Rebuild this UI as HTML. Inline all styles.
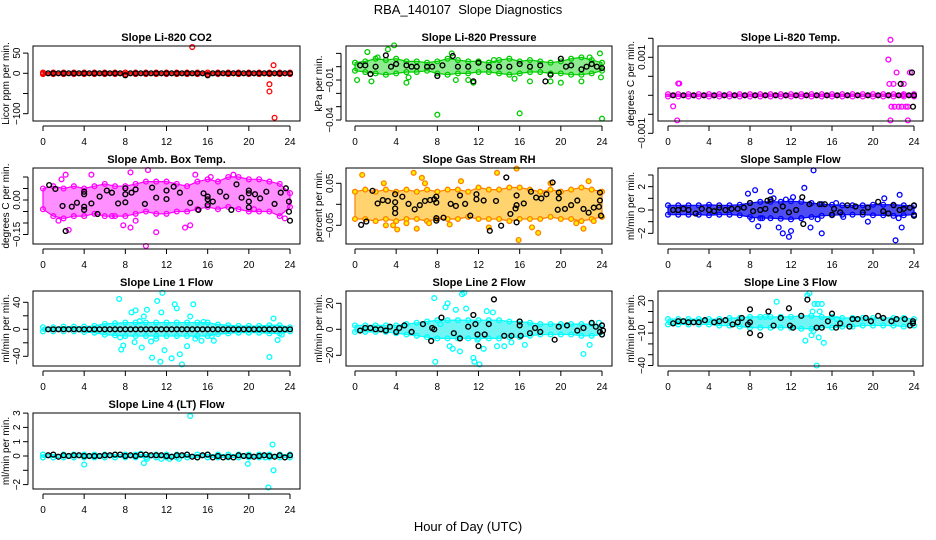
<!DOCTYPE html>
<html><head><meta charset="utf-8"><style>
body{margin:0;background:#fff}
svg{display:block}
text{font-family:"Liberation Sans",sans-serif;fill:#000}
</style></head><body>
<svg id="chart" width="936" height="540" xmlns="http://www.w3.org/2000/svg">
<text x="468" y="14" font-size="13" text-anchor="middle" style="white-space:pre">RBA_140107&#160; Slope Diagnostics</text>
<text x="468" y="531" font-size="13" text-anchor="middle">Hour of Day (UTC)</text>
</svg>
<script>
const HOURS=[0,1,2,3,4,5,6,7,8,9,10,11,12,13,14,15,16,17,18,19,20,21,22,23,24];
const HALF=[0.5,1,1.5,2,2.5,3,3.5,4,4.5,5,5.5,6,6.5,7,7.5,8,8.5,9,9.5,10,10.5,11,11.5,12,12.5,13,13.5,14,14.5,15,15.5,16,16.5,17,17.5,18,18.5,19,19.5,20,20.5,21,21.5,22,22.5,23,23.5,24];
const X_TICKS=[0,4,8,12,16,20,24];

// P1 CO2
const co2Hi=[2,2,2,2,2,2,2,2,2,2,2,2,2,2,2,2,2,2,2,2,2,2,2,2,2];
const co2Lo=[-2,-2,-2,-2,-2,-2,-2,-2,-2,-2,-2,-2,-2,-2,-2,-2,-2,-2,-2,-2,-2,-2,-2,-2,-2];
const co2OutT=[14.5,22,22,22.4,22.5,0,24];
const co2OutV=[65,-27,-45,20,-110,0,0];
const co2BlkV=[0,0,0,0,0,0,0,0,0,0,0,0,0,0,0,-5,0,0,0,0,0,0,0,0,0,0,0,0,0,0,0,-5,0,0,0,0,0,0,0,0,0,0,0,0,0,0,0,0];
const co2Ticks=[-100,0,50];

// P2 Pressure
const prHi=[0.003,0.004,0.006,0.005,0.006,0.004,0.004,0.003,0.004,0.006,0.005,0.004,0.004,0.003,0.005,0.006,0.004,0.005,0.004,0.003,0.004,0.006,0.007,0.005,0.003];
const prLo=[-0.003,-0.004,-0.005,-0.006,-0.005,-0.004,-0.004,-0.003,-0.005,-0.006,-0.005,-0.005,-0.004,-0.004,-0.005,-0.006,-0.005,-0.004,-0.004,-0.005,-0.005,-0.006,-0.006,-0.005,-0.003];
const prOutT=[0.2,1.2,1.6,2.2,3.2,3.8,5,5.2,8,9.4,9.8,11,11.5,13.5,15.5,16,17,19,20,22,22.8,23.8,23.9,24];
const prOutV=[-0.01,0.011,-0.011,0.007,0.013,0.016,-0.012,-0.008,-0.036,0.01,-0.01,-0.01,-0.012,0.005,-0.009,-0.035,-0.011,-0.011,-0.012,-0.011,0.007,0.01,-0.008,-0.039];
const prBlkT=[0.5,1,1.5,2,3,3.5,4,5,5.5,6,7,7.5,8,8.5,9.5,10,11,11.5,12,13,14,15,16,17,18,18.5,19,20,20.5,21,22,22.5,23,23.5,24];
const prBlkV=[0.001,0.001,-0.0055,0,0.0085,0,0.002,0.001,0,0,0,0,-0.007,0.001,0.008,0,0,-0.011,0.003,0,0,0,0.002,0,0.001,-0.011,-0.006,0.006,0,0.001,-0.002,0,0.002,0,-0.001];
const prTicks=[-0.04,-0.01];

// P3 Li-820 temp
const ltHi=[0.00003,0.00003,0.00003,0.00003,0.00003,0.00003,0.00003,0.00003,0.00003,0.00003,0.00003,0.00003,0.00003,0.00003,0.00003,0.00003,0.00003,0.00003,0.00003,0.00003,0.00003,0.00003,0.00003,0.00003,0.00003];
const ltLo=[-0.00003,-0.00003,-0.00003,-0.00003,-0.00003,-0.00003,-0.00003,-0.00003,-0.00003,-0.00003,-0.00003,-0.00003,-0.00003,-0.00003,-0.00003,-0.00003,-0.00003,-0.00003,-0.00003,-0.00003,-0.00003,-0.00003,-0.00003,-0.00003,-0.00003];
const ltOutT=[0.5,0.9,1,1.1,21.5,21.7,21.6,21.8,21.7,22,22.1,22.3,22.5,22.8,23,23.2,23.4,23.6,23.4,22.9,24];
const ltOutV=[-0.00029,-0.00066,0.00031,0.00031,0.00094,0.00146,0.0003,-0.0003,-0.00066,0.0003,-0.0003,0.0006,-0.0003,-0.0003,0.0003,-0.0003,-0.00066,0.0006,-0.0003,0,0];
const ltBlkT=[0.5,1.5,2.5,3.5,4.5,5.5,6.5,7.5,8.5,9.5,10.5,11.5,12.5,13.5,14.5,15.5,16.5,17.5,18.5,19.5,20.5,21.5,22.5,22.7,23.5,23.8,23.9,24];
const ltBlkV=[0,0,0,0,0,0,0,0,0,0,0,0,0,0,0,0,0,0,0,0,0,0,0,0.0003,0,0.0006,-0.0003,0];
const ltTicks=[-0.001,0.001];

// P4 Amb box temp
const abHi=[0.05,0.06,0.05,0.06,0.05,0.06,0.07,0.06,0.06,0.07,0.08,0.08,0.08,0.07,0.06,0.08,0.09,0.08,0.1,0.1,0.09,0.09,0.08,0.07,0.03];
const abLo=[-0.04,-0.07,-0.08,-0.07,-0.07,-0.06,-0.07,-0.07,-0.07,-0.06,-0.05,-0.06,-0.06,-0.05,-0.05,-0.04,-0.03,-0.04,-0.03,-0.04,-0.05,-0.05,-0.05,-0.07,-0.03];
const abOutT=[1.8,2.2,4.7,8.5,10.2,14.8,16.3,18.5,1.5,2.5,7.8,9,8.5,11,10,13.8,14.3,6.7,20.5,23.5];
const abOutV=[0.09,0.11,0.11,0.12,0.13,0.11,0.1,0.11,-0.09,-0.13,-0.11,-0.09,-0.12,-0.14,-0.2,-0.12,-0.11,-0.07,-0.04,-0.08];
const abBlkT=[0.6,1.2,1.9,2.2,2.8,3.3,4,4,4,4,4.7,5.3,5.5,6.2,6.7,7.3,8,8,8,8.6,9,9.9,10.6,11,12,12,12.7,13.3,14.3,15.1,15.6,16,16,16,16.5,17.2,17.8,18.3,18.8,19.3,20,20,20,20,20.6,21.1,21.7,22.5,23.1,23.6,23.9,23.9,24];
const abBlkV=[0.065,0.048,-0.026,-0.135,-0.029,-0.012,0.036,0.025,-0.029,-0.043,-0.015,-0.061,0.015,0.041,0.032,-0.015,0.025,0.051,-0.01,0.032,0.046,-0.017,0.054,0.01,0.041,0.004,0.058,0.032,-0.012,-0.043,0.029,0.015,0.003,-0.022,-0.007,0.036,0.015,-0.043,0.068,0.01,0.041,0.029,-0.007,-0.032,0.025,0.007,0.036,-0.017,0.032,0.051,-0.007,-0.051,-0.09];
const abTicks=[-0.15,0];
const abMinor=[-0.15,-0.1,-0.05,0,0.05,0.1];

// P5 RH
const rhHi=[0.03,0.035,0.03,0.035,0.03,0.035,0.03,0.035,0.03,0.035,0.035,0.03,0.04,0.035,0.035,0.04,0.04,0.035,0.03,0.035,0.03,0.035,0.04,0.035,0.03];
const rhLo=[-0.035,-0.035,-0.04,-0.035,-0.04,-0.035,-0.035,-0.04,-0.035,-0.035,-0.035,-0.03,-0.035,-0.035,-0.035,-0.04,-0.035,-0.035,-0.035,-0.03,-0.035,-0.035,-0.04,-0.035,-0.03];
const rhOutT=[0.7,3,2.8,3.7,4.1,5,5.7,6,6.5,6.8,7.2,9.2,10.3,13,13.8,15.7,15.9,17.2,17.8,19,21.5,22.2,22.7,23.2];
const rhOutV=[0.07,-0.05,0.05,-0.05,-0.06,-0.045,0.075,-0.058,0.063,0.05,-0.045,-0.048,0.055,-0.055,0.075,0.085,-0.085,-0.055,-0.068,0.05,-0.045,-0.058,0.055,-0.04];
const rhBlkT=[0.6,1.1,1.7,2.2,2.7,3.2,3.9,3.9,3.9,3.9,4.6,5.2,5.8,6.3,6.8,7.3,7.7,7.9,7.9,7.9,7.9,8.6,9.3,9.8,10.2,10.7,11.2,11.8,11.8,12.5,13.1,13.7,14.2,14.7,15.1,15.6,15.7,15.7,15.7,16.4,17.1,17.6,18.1,18.6,19.2,19.7,19.8,19.8,20.4,21,21.6,22.2,22.7,23.2,23.7,23.8,23.8,23.9];
const rhBlkV=[-0.049,-0.041,0.032,0.002,0.01,0.008,0.024,0.005,-0.01,-0.021,0.018,0.001,-0.012,-0.002,0.008,0.01,0.012,0.018,0.004,-0.033,-0.039,-0.032,0.001,-0.004,0.021,0.001,-0.027,0.024,0.012,0.009,-0.063,0.008,-0.051,0.064,-0.023,-0.01,0.021,-0.002,-0.043,0.002,0.03,0.016,0.014,0.024,0.052,-0.013,0.028,0.014,-0.011,-0.002,0.009,-0.011,-0.02,-0.008,-0.006,0.028,0.009,-0.027];
const rhTicks=[-0.05,0.05];
const rhMinor=[-0.05,0,0.05];

// P6 Sample flow
const sfHi=[0.4,0.4,0.4,0.4,0.45,0.4,0.4,0.45,0.6,0.7,0.7,0.7,0.75,0.7,0.6,0.5,0.45,0.4,0.4,0.4,0.45,0.45,0.45,0.4,0.35];
const sfLo=[-0.4,-0.4,-0.4,-0.4,-0.45,-0.4,-0.4,-0.45,-0.6,-0.7,-0.7,-0.75,-0.8,-0.7,-0.6,-0.5,-0.45,-0.4,-0.4,-0.4,-0.45,-0.45,-0.5,-0.45,-0.4];
const sfOutT=[7.8,8.2,8.5,8.8,9.2,10,10.3,10.8,11.2,11.5,11.8,12,12.2,13,13.3,13.9,14.2,14.6,15,16.4,17.1,19.5,21.1,22.2,22.5,22.6,22.8];
const sfOutV=[1.4,-0.8,1.7,-1.4,-0.7,1.6,1.0,-1.5,-2.0,0.9,-2.3,-1.8,1.1,-0.7,1.9,-1.5,3.4,-0.8,-2.0,0.6,-0.6,-1.0,1.0,-2.6,-0.7,1.3,-1.5];
const sfBlkT=[0.5,1,1.5,2,2.7,3.3,4,4.5,5,5.6,6.2,6.8,7.4,8,8.3,9,9.5,9.7,10,10.5,11.2,11.8,12.5,13.1,13.2,13.8,14.8,15.3,16,16.2,16.8,17.5,18.3,19,19.5,20.5,21,21.5,22,22.6,23,23.6,24,24];
const sfBlkV=[0,0,0.1,0,-0.3,0.1,0,-0.1,0.2,0,0.1,0.1,0.2,0.6,-0.1,0,0.1,0.8,0.9,0,0.3,-0.2,0,1.1,-1.2,0.5,0.5,0.5,-0.4,0.1,-0.2,0.4,0.3,-0.2,0.2,0.7,-0.1,-0.3,0.4,0,0.1,0.2,-0.5,0.4];
const sfTicks=[-2,0,2];
const sfMinor=[-2,-1,0,1,2,3];

// P7 Line 1
const l1Hi=[3,3,4,4,4,5,8,9,10,10,10,10,10,10,10,10,10,7,6,5,5,5,6,6,3];
const l1Lo=[-3,-3,-3,-3,-4,-5,-8,-9,-10,-10,-10,-10,-10,-10,-10,-10,-10,-7,-6,-5,-5,-5,-6,-6,-3];
const l1OutT=[7.4,7.5,7.6,7.8,8.6,9,8.9,9.4,9.6,9.8,10.1,10.5,10.6,11,11.1,11.4,11.5,11.6,11.8,12.5,12.8,13,13.3,13.5,14,14.3,14.6,14.8,15.4,15.6,16.4,16.6,22,22.4,22.8,23.2];
const l1OutV=[45,-12,-30,-24,25,28,-19,12,-27,19,29,-18,-42,-14,42,-48,25,54,-31,-43,37,31,-37,-52,-25,19,37,-14,-17,11,-10,-17,-41,16,-16,-8];
const l1BlkV=[0,0,0,0,0,0,0,0,0,0,0,0,0,0,0,0,0,0,0,0,0,0,0,0,0,0,0,0,0,0,0,0,0,0,0,0,0,0,0,0,0,0,0,0,0,0,0,0];
const l1Ticks=[-40,0,40];
const l1Minor=[-40,-20,0,20,40];

// P8 Line 2
const l2Hi=[3,3,3,3,3,4,5,6,7,7,7,7,7,7,7,6,6,5,4,4,4,4,4,4,3];
const l2Lo=[-2,-2,-2,-2,-3,-4,-5,-6,-7,-7,-7,-7,-7,-7,-7,-6,-6,-5,-4,-4,-4,-4,-5,-5,-4];
const l2OutT=[7.7,7.8,8.3,8.8,9,9.2,9.5,9.8,10.2,10.4,10.6,10.8,11.5,11.6,11.9,12.1,12.5,12.8,13.4,13.8,14.5,15.2,16.5,22.2,22.8,23.7];
const l2OutV=[24,-25,4,17,20,-13,-15,15,-17,27,28,16,-22,-25,-8,-27,-15,14,13,-13,-13,-10,-12,-19,-12,5];
const l2BlkT=[0.5,1,1.5,2,2.5,3,3.4,4,4.3,4.8,5.5,6.6,7.4,7.5,7.7,8.4,9.6,10.2,11,11.5,11.7,11.9,12,12.6,13,13.5,14.5,15.2,16,16,16.1,17,17.5,18,19.4,19.8,20.6,21.6,22.2,23,23.4,23.8,24,24,24.1];
const l2BlkV=[-1,1,1,0,0,-1,2,-2,1,3,-2,4,-9,1,0,9,-3,-7,2,11,4,-4,-13,-4,4,23,-5,-5,6,3,-5,-3,1,-2,-8,2,3,-1,1,5,2,-2,3,-4,-1];
const l2Ticks=[-20,0,20];

// P9 Line 3
const l3Hi=[3,3,3,3,3,3,4,4,5,5,5,5,5,6,6,5,5,4,4,4,4,4,4,4,3];
const l3Lo=[-2,-2,-2,-2,-2,-3,-3,-4,-5,-5,-5,-5,-5,-6,-6,-5,-5,-4,-4,-3,-3,-3,-3,-4,-3];
const l3OutT=[9.5,10.6,13.8,13.6,14.3,14.6,15,14.8,14.2,13.4,14.7,15.2,14,14.5,14.1,16.5];
const l3OutV=[5,19,27,25,17,17,17,10,-8,-17,-14,-19,-12,-40,10,3];
const l3BlkT=[0.5,1,1.5,2,2.5,3,3.6,4.5,5,5.6,6.3,6.8,7.2,7.8,8,8,8,9,9.8,10.3,11,11.8,11.9,12.2,13,13.6,14.5,15,15.6,16,16.4,16.8,17.7,18,18.5,19.3,19.8,20.5,21,21.8,22.3,23.1,23.6,23.9,23.9];
const l3BlkV=[-1,1,1,0,0,0,2,0,1,2,-2,0,4,-2,12,0,-10,-12,10,-3,4,13,-3,-5,6,21,-5,-5,1,8,-5,-1,-4,3,3,4,1,6,4,1,3,3,-3,1,-1];
const l3Ticks=[-40,-10,20];
const l3Minor=[-40,-30,-20,-10,0,10,20];

// P10 Line 4
const l4Hi=[0.1,0.1,0.1,0.1,0.1,0.1,0.1,0.1,0.1,0.1,0.1,0.1,0.1,0.1,0.1,0.1,0.1,0.1,0.1,0.1,0.1,0.1,0.1,0.1,0.1];
const l4Lo=[-0.1,-0.1,-0.1,-0.1,-0.1,-0.1,-0.1,-0.1,-0.1,-0.1,-0.1,-0.1,-0.1,-0.1,-0.1,-0.1,-0.1,-0.1,-0.1,-0.1,-0.1,-0.1,-0.1,-0.1,-0.1];
const l4OutT=[4,9.8,10.1,11.5,12.3,13.2,14.3,19.9,21.9,22.3,22.4,21.6,9.5];
const l4OutV=[-0.6,-0.5,-0.2,-0.2,-0.2,-0.2,2.8,-0.55,-2.2,0.8,-1.0,-0.1,0.15];
const l4BlkV=[0.05,0.1,-0.05,0.05,0,0.05,0.05,0,0,0,0,0.05,0.05,0.1,0.1,0,0.05,0,0.1,0.1,0.05,0.05,0.05,0,-0.05,0.05,0.05,0.1,-0.05,-0.1,0.05,0.1,-0.1,0,-0.1,-0.05,-0.1,0.05,0,0,-0.05,0,0.05,0,-0.05,0.05,-0.1,0.05];
const l4Ticks=[-2,0,1,2,3];
const l4Minor=[-2,-1,0,1,2,3];

const svg=document.getElementById('chart');
const NS='http://www.w3.org/2000/svg';
function mk(tag,attrs,parent){const e=document.createElementNS(NS,tag);for(const k in attrs)e.setAttribute(k,attrs[k]);(parent||svg).appendChild(e);return e;}

const COLS=[[33,300,43,290],[346,612,355,602],[658,923,668,914]];
const ROWS=[[46,121],[168,244],[291,366],[413,489]];

function panel(p){
  const [L,R,x0,x24]=COLS[p.col];const [T,B]=ROWS[p.row];
  const g=mk('g',{});
  
  
  const xs=t=>x0+(x24-x0)*t/24;
  const yv=v=>p.zeroY-v*p.pxPer;
  const pts=[];
  HOURS.forEach((h,i)=>pts.push(xs(h)+','+yv(p.hi[i])));
  for(let i=HOURS.length-1;i>=0;i--)pts.push(xs(HOURS[i])+','+yv(p.lo[i]));
  const band=mk('polygon',{points:pts.join(' '),fill:p.bandFill,'fill-opacity':p.bandOp||0.75,stroke:p.stroke,'stroke-width':1.2,'stroke-linejoin':'round'},g);
  
  
  HOURS.forEach((h,i)=>{
    [p.hi[i],p.lo[i]].forEach(v=>{
      const c=mk('circle',{cx:xs(h),cy:yv(v),r:2.4,fill:p.fill,stroke:p.stroke,'stroke-width':1.3},g);
      
      
    });
  });
  p.outT.forEach((t,i)=>{
    const c=mk('circle',{cx:xs(t),cy:yv(p.outV[i]),r:2.4,fill:p.fill,stroke:p.stroke,'stroke-width':1.3},g);
    
    
  });
  p.blkT.forEach((t,i)=>{
    const c=mk('circle',{cx:xs(t),cy:yv(p.blkV[i]),r:2.4,fill:'none',stroke:'#000','stroke-width':1.4},g);
    
    
  });
  const box=mk('rect',{x:L,y:T,width:R-L,height:B-T,fill:'none',stroke:'#000','stroke-width':1},g);
  
  
  const ttl=mk('text',{x:(L+R)/2,y:T-5,'font-size':11,'font-weight':'bold','text-anchor':'middle'},g);
  ttl.textContent=p.title;
  
  
  mk('line',{x1:xs(0),x2:xs(24),y1:B+5,y2:B+5,stroke:'#000'},g);
  X_TICKS.forEach(t=>{
    mk('line',{x1:xs(t),x2:xs(t),y1:B+5,y2:B+10,stroke:'#000'},g);
    const tx=mk('text',{x:xs(t),y:B+24,'font-size':10,'text-anchor':'middle'},g);
    tx.textContent=t;
    
    
  });
  const minor=p.minor||p.ticks;
  mk('line',{x1:L-5,x2:L-5,y1:yv(minor[0]),y2:yv(minor[minor.length-1]),stroke:'#000'},g);
  minor.forEach(v=>mk('line',{x1:L-10,x2:L-5,y1:yv(v),y2:yv(v),stroke:'#000'},g));
  p.ticks.forEach(v=>{
    const yy=yv(v);
    const tx=mk('text',{x:0,y:0,'font-size':10,'text-anchor':'middle',transform:`translate(${L-13},${yy}) rotate(-90)`},g);
    tx.textContent=(v<0?'\u2212'+String(-v):String(v)).replace(/^0$/,p.zeroLabel||'0');
    
    
  });
  const yt=mk('text',{x:0,y:0,'font-size':10,'text-anchor':'middle',transform:`translate(${L-24},${(T+B)/2}) rotate(-90)`},g);
  yt.textContent=p.ylab;
  
  
}

const RED={stroke:'#ff0000',fill:'none',bandFill:'#ff0000'};
panel(Object.assign({name:'panel-co2',col:0,row:0,title:'Slope Li-820 CO2',ylab:'Licor ppm per min.',zeroY:73.3,pxPer:0.404,hi:co2Hi,lo:co2Lo,outT:co2OutT,outV:co2OutV,blkT:HALF,blkV:co2BlkV,ticks:co2Ticks,minor:[-100,-50,0,50]},RED));
panel({name:'panel-pressure',col:1,row:0,title:'Slope Li-820 Pressure',ylab:'kPa per min.',zeroY:66.7,pxPer:1333,hi:prHi,lo:prLo,outT:prOutT,outV:prOutV,blkT:prBlkT,blkV:prBlkV,ticks:prTicks,minor:[-0.04,-0.03,-0.02,-0.01,0,0.01],stroke:'#00cc00',fill:'none',bandFill:'#44dd44',bandOp:0.6});
panel({name:'panel-li820-temp',col:2,row:0,title:'Slope Li-820 Temp.',ylab:'degrees C per min.',zeroY:95.3,pxPer:38000,hi:ltHi,lo:ltLo,outT:ltOutT,outV:ltOutV,blkT:ltBlkT,blkV:ltBlkV,ticks:ltTicks,minor:[-0.001,-0.0005,0,0.0005,0.001,0.0015],stroke:'#ff00ff',fill:'none',bandFill:'#ff00ff'});
panel({name:'panel-amb-box-temp',col:0,row:1,title:'Slope Amb. Box Temp.',ylab:'degrees C per min.',zeroY:200,pxPer:230,hi:abHi,lo:abLo,outT:abOutT,outV:abOutV,blkT:abBlkT,blkV:abBlkV,ticks:abTicks,minor:abMinor,zeroLabel:'0.00',stroke:'#ff00ff',fill:'none',bandFill:'#ff44ff',bandOp:0.6});
panel({name:'panel-gas-rh',col:1,row:1,title:'Slope Gas Stream RH',ylab:'percent per min.',zeroY:204.3,pxPer:420,hi:rhHi,lo:rhLo,outT:rhOutT,outV:rhOutV,blkT:rhBlkT,blkV:rhBlkV,ticks:rhTicks,minor:rhMinor,stroke:'#ff8000',fill:'#ffee00',bandFill:'#ffc030',bandOp:0.7});
panel({name:'panel-sample-flow',col:2,row:1,title:'Slope Sample Flow',ylab:'ml/min per min.',zeroY:210,pxPer:11.67,hi:sfHi,lo:sfLo,outT:sfOutT,outV:sfOutV,blkT:sfBlkT,blkV:sfBlkV,ticks:sfTicks,minor:sfMinor,stroke:'#0000ff',fill:'none',bandFill:'#2020ee',bandOp:0.8});
const CY={stroke:'#00ffff',fill:'none',bandFill:'#33f0f0',bandOp:0.7};
panel(Object.assign({name:'panel-line1-flow',col:0,row:2,title:'Slope Line 1 Flow',ylab:'ml/min per min.',zeroY:329.3,pxPer:0.675,hi:l1Hi,lo:l1Lo,outT:l1OutT,outV:l1OutV,blkT:HALF,blkV:l1BlkV,ticks:l1Ticks,minor:l1Minor},CY));
panel(Object.assign({name:'panel-line2-flow',col:1,row:2,title:'Slope Line 2 Flow',ylab:'ml/min per min.',zeroY:329.3,pxPer:1.3,hi:l2Hi,lo:l2Lo,outT:l2OutT,outV:l2OutV,blkT:l2BlkT,blkV:l2BlkV,ticks:l2Ticks},CY));
panel(Object.assign({name:'panel-line3-flow',col:2,row:2,title:'Slope Line 3 Flow',ylab:'ml/min per min.',zeroY:322.3,pxPer:1.08,hi:l3Hi,lo:l3Lo,outT:l3OutT,outV:l3OutV,blkT:l3BlkT,blkV:l3BlkV,ticks:l3Ticks,minor:l3Minor},CY));
panel(Object.assign({name:'panel-line4-flow',col:0,row:3,title:'Slope Line 4 (LT) Flow',ylab:'ml/min per min.',zeroY:456,pxPer:14.3,hi:l4Hi,lo:l4Lo,outT:l4OutT,outV:l4OutV,blkT:HALF,blkV:l4BlkV,ticks:l4Ticks,minor:l4Minor},CY));
</script>
</body></html>
